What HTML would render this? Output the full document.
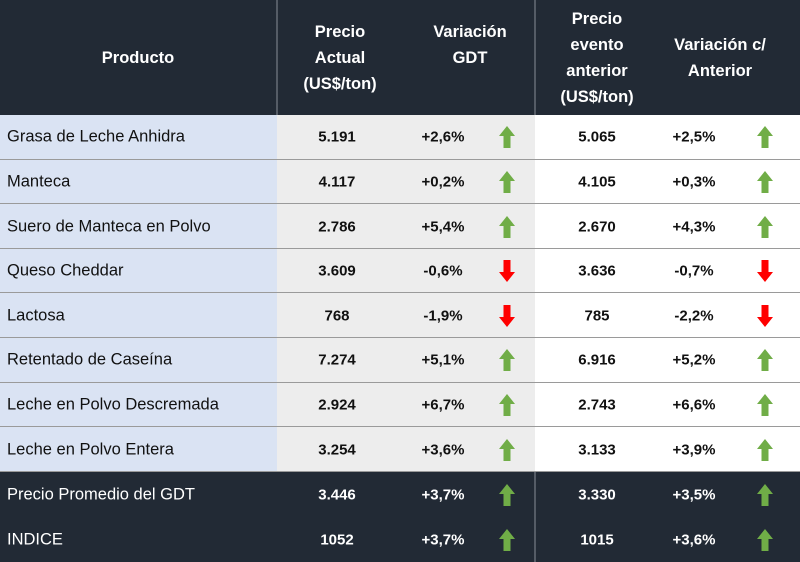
<!DOCTYPE html>
<html><head><meta charset="utf-8"><style>
body{margin:0;width:800px;height:562px;overflow:hidden;background:#fff;font-family:"Liberation Sans",sans-serif}
#t{position:relative;width:800px;height:562px}
.c{position:absolute;box-sizing:border-box}
.txt{position:absolute;white-space:nowrap;transform:translate(-50%,-50%);font-weight:bold;font-size:15px}
.prod{position:absolute;left:7px;transform:translateY(-50%);font-size:16.5px;white-space:nowrap}
.hd{position:absolute;transform:translate(-50%,-50%);text-align:center;color:#fff;font-weight:bold;font-size:16.5px;line-height:26px;white-space:nowrap}
</style></head><body>
<div id="t"></div>
<script>
const products=["Grasa de Leche Anhidra","Manteca","Suero de Manteca en Polvo","Queso Cheddar","Lactosa","Retentado de Caseína","Leche en Polvo Descremada","Leche en Polvo Entera","Precio Promedio del GDT","INDICE"];
const priceNow=["5.191","4.117","2.786","3.609","768","7.274","2.924","3.254","3.446","1052"];
const varGdt=["+2,6%","+0,2%","+5,4%","-0,6%","-1,9%","+5,1%","+6,7%","+3,6%","+3,7%","+3,7%"];
const pricePrev=["5.065","4.105","2.670","3.636","785","6.916","2.743","3.133","3.330","1015"];
const varPrev=["+2,5%","+0,3%","+4,3%","-0,7%","-2,2%","+5,2%","+6,6%","+3,9%","+3,5%","+3,6%"];
const headers=["Producto","Precio<br>Actual<br>(US$/ton)","Variación<br>GDT","Precio<br>evento<br>anterior<br>(US$/ton)","Variación c/<br>Anterior"];
const t=document.getElementById('t');
function box(x,y,w,h,bg,name){const d=document.createElement('div');d.className='c';d.style.cssText=`left:${x}px;top:${y}px;width:${w}px;height:${h}px;background:${bg}`;


t.appendChild(d);return d;}
const dark='#222a35';
box(0,0,800,115,dark,'header-row');
box(276,0,2,115,'#555c66','header-divider');
box(534,0,2,115,'#555c66','header-divider');
const hx=[138,340,470,597,720];
const hy=[58,58,45,58,58];
headers.forEach((h,i)=>{const d=document.createElement('div');d.className='hd';d.innerHTML=h;d.style.left=hx[i]+'px';d.style.top=hy[i]+'px';


t.appendChild(d);});
function arrow(x,y,up,name){const s=document.createElementNS('http://www.w3.org/2000/svg','svg');s.setAttribute('width','18');s.setAttribute('height','24');s.style.cssText=`position:absolute;left:${x-9}px;top:${y-12}px`;
s.innerHTML=up?'<polygon points="9,1 17,11 12.5,11 12.5,23 5.5,23 5.5,11 1,11" fill="#70ad47"/>':'<polygon points="9,23 17,13 12.5,13 12.5,1 5.5,1 5.5,13 1,13" fill="#ff0000"/>';


t.appendChild(s);}
function txt(cls,x,y,s,col,name){const d=document.createElement('div');d.className=cls;if(x!==null)d.style.left=x+'px';d.style.top=y+'px';d.style.color=col;d.textContent=s;


t.appendChild(d);}
const rowH=44.6;
products.forEach((p,i)=>{
  let y,h=44.6;const isDark=i>=8;
  if(!isDark){y=115+i*rowH;box(0,y,277,h,'#dae3f3','product-cell');box(277,y,258,h,'#ededed','current-cell');box(535,y,265,h,'#fff','previous-cell');
    box(0,y+h-1,800,1.5,'#9a9a9a','row-separator');}
  else{y=472+(i-8)*45;h=45;box(0,y,800,h,dark,'summary-row');box(534,y,2,h,'#555c66','summary-divider');}
  const cy=y+h/2, col=isDark?'#fff':'#111';
  txt('prod',null,cy,p,col,'product-name');
  txt('txt',337,cy,priceNow[i],col,'current-price');
  txt('txt',443,cy,varGdt[i],col,'gdt-variation');
  arrow(507,cy,varGdt[i][0]==='+','gdt-arrow');
  txt('txt',597,cy,pricePrev[i],col,'previous-price');
  txt('txt',694,cy,varPrev[i],col,'previous-variation');
  arrow(765,cy,varPrev[i][0]==='+','previous-arrow');
});
</script>
</body></html>
